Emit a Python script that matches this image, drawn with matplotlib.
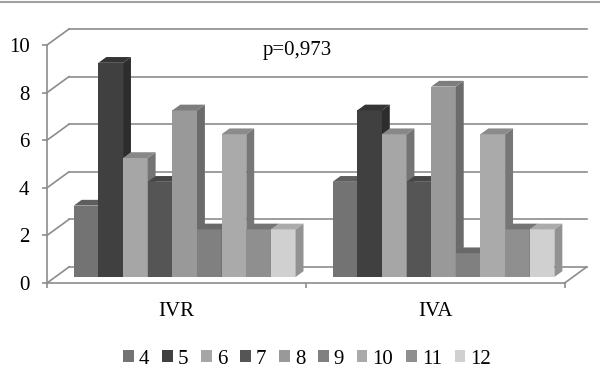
import numpy as np
import matplotlib
matplotlib.use("Agg")
import matplotlib.pyplot as plt
from matplotlib.patches import Polygon, Patch
from matplotlib.lines import Line2D
from matplotlib.colors import to_rgb

plt.rcParams['font.family'] = ['Liberation Serif', 'DejaVu Serif']
plt.rcParams['font.size'] = 15

# data
categories = ['IVR', 'IVA']
series = ['4', '5', '6', '7', '8', '9', '10', '11', '12']
ivr = [3, 9, 5, 4, 7, 2, 6, 2, 2]
iva = [4, 7, 6, 4, 8, 1, 6, 2, 2]
yticks = [0, 2, 4, 6, 8, 10]
p_label = 'p=0,973'

colors = ['#737373', '#404040', '#a6a6a6', '#555555', '#999999',
          '#808080', '#aaaaaa', '#8f8f8f', '#d0d0d0']

# oblique "3d" look: full depth of the box in data units
depth = np.array([0.892, 0.672])
bar_front = 0.375
bar_back = 0.735
cat_width = 10.5
bar_gap = 0.75

def shade(c, f):
    r, g, b = to_rgb(c)
    return (r * f, g * f, b * f)

fig = plt.figure(figsize=(6, 3.77), dpi=100)
ax = fig.add_axes([0, 0, 1, 1])
ax.set_xlim(-1.907, 22.434)
ax.set_ylim(-3.950, 11.891)

grid_c = '#8c8c8c'
ncat = len(categories)
xmax = cat_width * ncat

# walls and floor
for v in yticks:
    ax.plot([0, depth[0]], [v, v + depth[1]], color=grid_c, lw=1.2, zorder=1)
    ax.plot([depth[0], xmax + depth[0]], [v + depth[1], v + depth[1]],
            color=grid_c, lw=1.2, zorder=1)
ax.plot([xmax, xmax + depth[0]], [0, depth[1]], color=grid_c, lw=1.2, zorder=1)

# bars, left to right so each one hides the side of the previous
z = 3
for c, vals in enumerate([ivr, iva]):
    for i, h in enumerate(vals):
        x0 = c * cat_width + bar_gap + i + bar_front * depth[0]
        y0 = bar_front * depth[1]
        dx = (bar_back - bar_front) * depth[0]
        dy = (bar_back - bar_front) * depth[1]
        x1 = x0 + 1
        col = colors[i]
        ax.add_patch(Polygon([[x0, y0], [x1, y0], [x1, y0 + h], [x0, y0 + h]],
                             closed=True, facecolor=col, lw=0, zorder=z))
        ax.add_patch(Polygon([[x1, y0], [x1 + dx, y0 + dy], [x1 + dx, y0 + h + dy],
                              [x1, y0 + h]], closed=True,
                             facecolor=shade(col, 0.7), lw=0, zorder=z))
        ax.add_patch(Polygon([[x0, y0 + h], [x1, y0 + h], [x1 + dx, y0 + h + dy],
                              [x0 + dx, y0 + h + dy]], closed=True,
                             facecolor=shade(col, 0.82), lw=0, zorder=z))
        z += 1

# axes
for s in ['top', 'right']:
    ax.spines[s].set_visible(False)
ax.spines['left'].set_position(('data', 0))
ax.spines['bottom'].set_position(('data', 0))
ax.spines['left'].set_bounds(0, 10)
ax.spines['bottom'].set_bounds(0, xmax)
for s in ['left', 'bottom']:
    ax.spines[s].set_color(grid_c)
    ax.spines[s].set_linewidth(1.2)
ax.set_yticks(yticks)
ax.tick_params(axis='y', length=3.6, width=1.2, color=grid_c, pad=9)
ax.set_xticks([cat_width * k for k in range(ncat + 1)])
ax.set_xticklabels([])
ax.set_xticks([cat_width * (k + 0.5) for k in range(ncat)], minor=True)
ax.set_xticklabels(categories, minor=True)
ax.tick_params(axis='x', which='major', length=3.6, width=1.2, color=grid_c)
ax.tick_params(axis='x', which='minor', length=0, pad=14)

ax.text(10.16, 9.6, p_label, ha='center', va='baseline')

# top border
fig.add_artist(Line2D([0, 1], [0.996, 0.996], color='#a0a0a0', lw=1.5))

handles = [Patch(facecolor=colors[i], edgecolor='none') for i in range(len(series))]
fig.legend(handles, series, loc='center', bbox_to_anchor=(0.512, 0.047), ncol=9,
           frameon=False, handlelength=0.5, handleheight=0.5,
           handletextpad=0.25, columnspacing=0.62, borderaxespad=0)

fig.savefig('out.png', dpi=100)
